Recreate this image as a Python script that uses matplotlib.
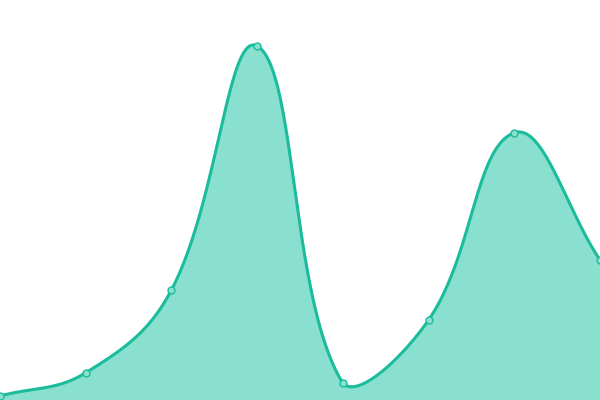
import numpy as np
import matplotlib
matplotlib.use("Agg")
import matplotlib.pyplot as plt

# values (axis 0..100)
x_idx = [0, 1, 2, 3, 4, 5, 6, 7]
values = [1.0, 6.8, 27.5, 88.5, 4.2, 20.0, 66.8, 35.0]

line_col = '#1abc9c'
fill_col = '#8ae0cf'

W, H = 600, 400
YMAX = 100


def smooth(xs, ys, tension=0.4, n=80):
    # chart.js-like spline: control points weighted by segment length,
    # computed in pixel space and clamped to the plot area
    px = np.asarray(xs, float) * W / (len(xs) - 1)
    py = np.asarray(ys, float) * H / YMAX
    m = len(px)
    prev_c, next_c = [], []
    for i in range(m):
        i0 = max(i - 1, 0)
        i2 = min(i + 1, m - 1)
        d01 = np.hypot(px[i] - px[i0], py[i] - py[i0])
        d12 = np.hypot(px[i2] - px[i], py[i2] - py[i])
        tot = d01 + d12
        s01 = d01 / tot if tot else 0
        s12 = d12 / tot if tot else 0
        fa, fb = tension * s01, tension * s12
        dx, dy = px[i2] - px[i0], py[i2] - py[i0]
        prev_c.append((np.clip(px[i] - fa * dx, 0, W), np.clip(py[i] - fa * dy, 0, H)))
        next_c.append((np.clip(px[i] + fb * dx, 0, W), np.clip(py[i] + fb * dy, 0, H)))
    outx, outy = [], []
    t = np.linspace(0, 1, n)
    a = (1 - t) ** 3
    b = 3 * (1 - t) ** 2 * t
    c = 3 * (1 - t) * t ** 2
    d = t ** 3
    for i in range(m - 1):
        outx.append(a * px[i] + b * next_c[i][0] + c * prev_c[i + 1][0] + d * px[i + 1])
        outy.append(a * py[i] + b * next_c[i][1] + c * prev_c[i + 1][1] + d * py[i + 1])
    outx = np.concatenate(outx) * (len(xs) - 1) / W
    outy = np.concatenate(outy) * YMAX / H
    return outx, outy


sx, sy = smooth(x_idx, values)

fig = plt.figure(figsize=(6, 4), dpi=100)
ax = fig.add_axes([0, 0, 1, 1])
ax.fill_between(sx, sy, 0, color=fill_col, lw=0)
ax.plot(sx, sy, color=line_col, lw=2.2, solid_capstyle='round')
ax.plot(x_idx, values, 'o', ms=5, mfc=fill_col, mec=line_col, mew=1.0)
ax.set_xlim(0, 7)
ax.set_ylim(0, YMAX)
ax.axis('off')
fig.savefig('out.png', dpi=100)
